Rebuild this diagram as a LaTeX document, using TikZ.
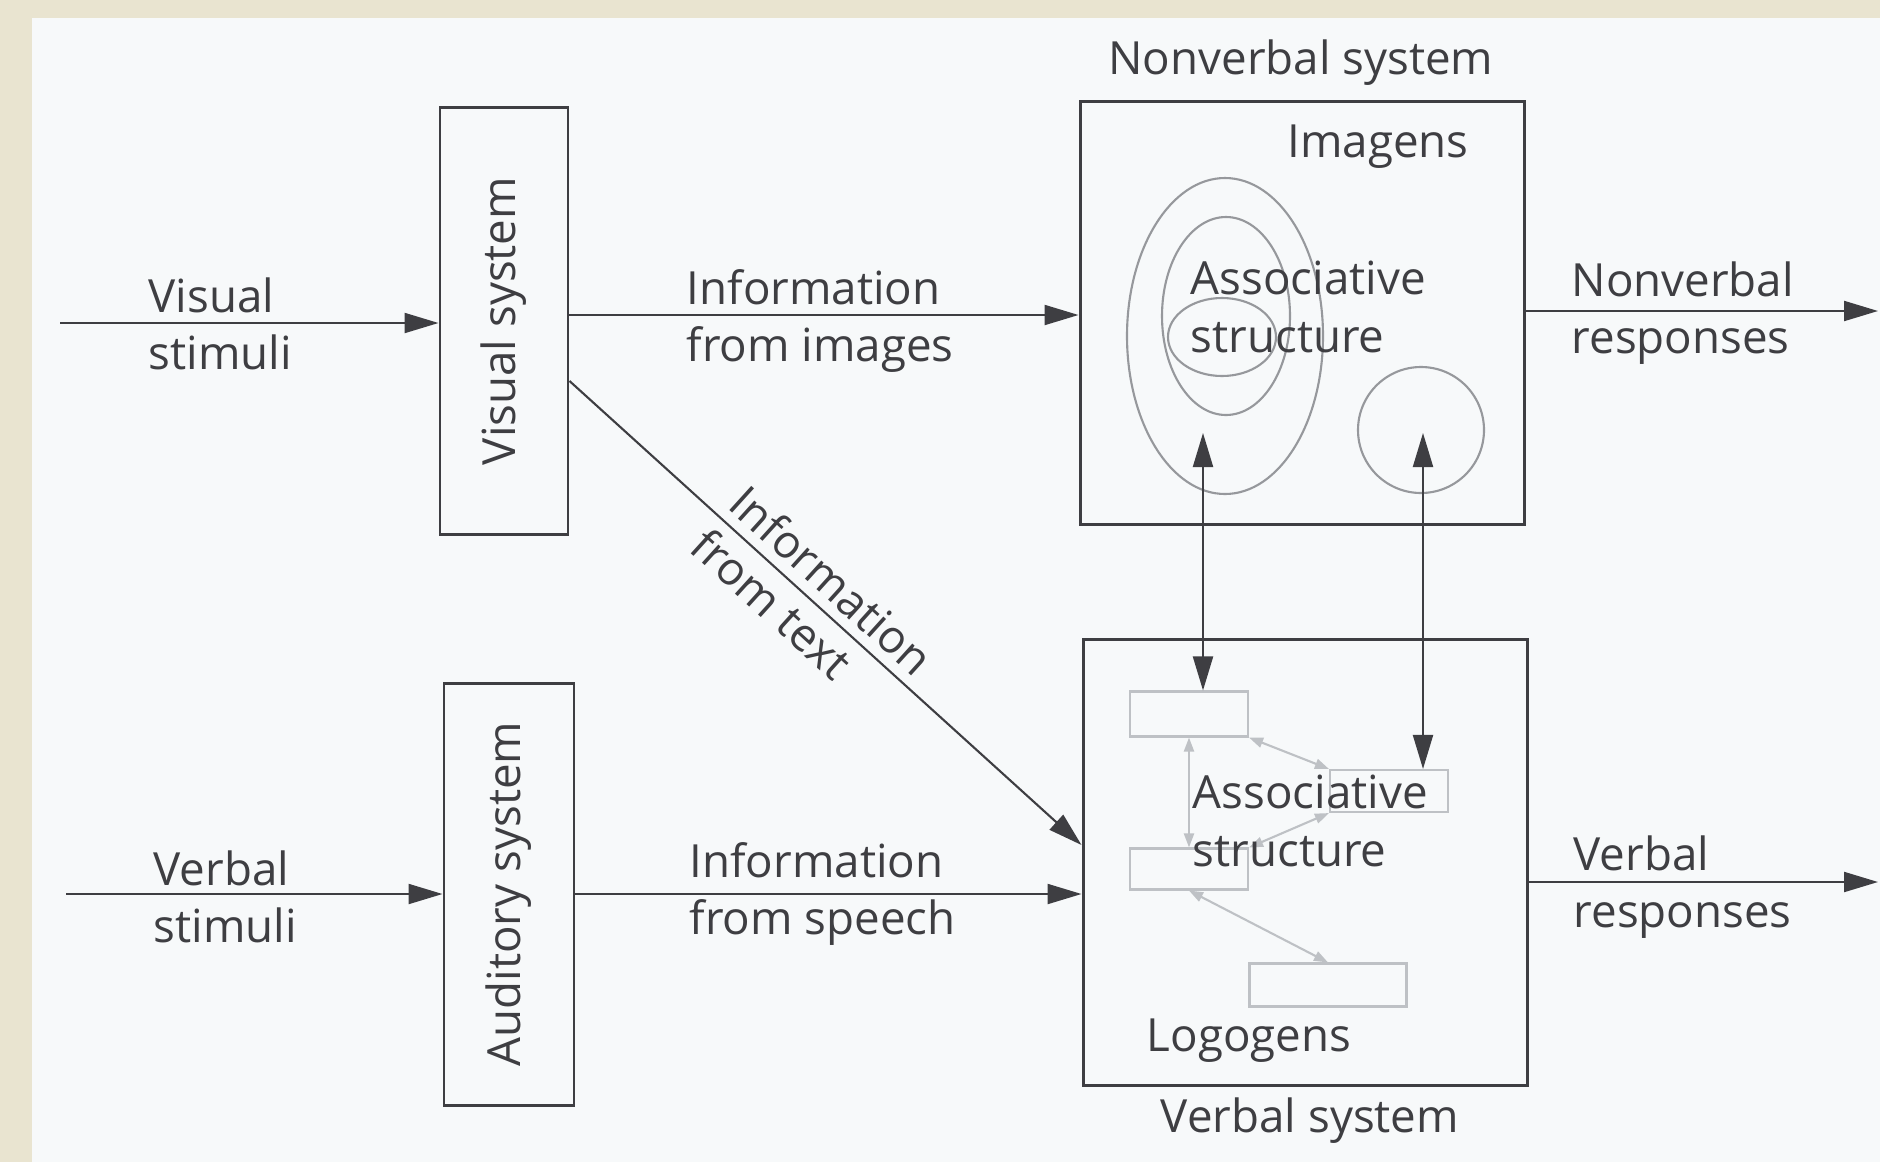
\documentclass[tikz,border=0pt]{standalone}
\usepackage{fontspec}
\setmainfont{Open Sans}
\usetikzlibrary{arrows.meta}

\definecolor{pagebg}{RGB}{233,228,208}
\definecolor{paper}{RGB}{247,249,250}
\definecolor{ink}{RGB}{62,62,66}
\definecolor{ringgray}{RGB}{150,152,156}
\definecolor{faint}{RGB}{190,193,197}

\tikzset{
  sysbox/.style={draw=ink, line width=0.85pt, inner sep=0pt},
  txt/.style={text=ink, align=left, inner sep=0pt, font=\fontsize{13}{16.4}\selectfont},
  flow/.style={draw=ink, line width=0.6pt, -{Triangle[length=3.4mm,width=2mm]}},
  duplex/.style={draw=ink, line width=0.6pt, {Triangle[length=3.4mm,width=2mm]}-{Triangle[length=3.4mm,width=2mm]}},
  ring/.style={draw=ringgray, line width=0.6pt},
  logo/.style={draw=faint, line width=0.6pt, inner sep=0pt},
  linkarrow/.style={draw=faint, line width=0.6pt, {Triangle[length=1.4mm,width=1mm]}-{Triangle[length=1.4mm,width=1mm]}}
}

\begin{document}
\begin{tikzpicture}[x=0.1mm, y=-0.1mm]

\useasboundingbox (0,0) rectangle (1880,1162);
\fill[pagebg] (0,0) rectangle (1880,1162);
\fill[paper] (32,18) rectangle (1880,1162);

\node[sysbox, txt, rotate=90, minimum width=42.7mm, minimum height=12.8mm] (vis) at (504,321) {Visual system};
\node[sysbox, txt, rotate=90, minimum width=42.2mm, minimum height=13mm] (aud) at (509,894) {Auditory system};
\node[sysbox, minimum width=44.4mm, minimum height=42.3mm] (nv) at (1302,313) {};
\node[sysbox, minimum width=44.4mm, minimum height=44.6mm] (vb) at (1305,862) {};

\node[txt] (nvtitle) at (1301,63) {Nonverbal system};
\node[txt] (vbtitle) at (1310,1121) {Verbal system};
\node[txt] (imagens) at (1378,147) {Imagens};
\node[txt] (logogens) at (1249,1041) {Logogens};

\draw[ring] (1225,336) ellipse [x radius=9.8mm, y radius=15.8mm];
\draw[ring] (1226,316) ellipse [x radius=6.4mm, y radius=9.9mm];
\draw[ring] (1222,337) ellipse [x radius=5.4mm, y radius=3.9mm];
\draw[ring] (1421,430) circle [radius=6.3mm];
\node[txt, anchor=west] (nvassoc) at (1190,307) {Associative\\structure};

\node[logo, minimum width=11.8mm, minimum height=4.5mm] (lg1) at (1189,714) {};
\node[logo, minimum width=11.8mm, minimum height=4.2mm] (lg2) at (1389,791) {};
\node[logo, minimum width=11.8mm, minimum height=4.1mm] (lg3) at (1189,869) {};
\node[logo, minimum width=15.7mm, minimum height=4.3mm] (lg4) at (1328,985) {};
\draw[linkarrow] (lg2.north west) -- (lg1.south east);
\draw[linkarrow] (lg3.north) -- (lg1.south);
\draw[linkarrow] (lg2.south west) -- (lg3.north east);
\draw[linkarrow] (lg3.south) -- (lg4.north);
\node[txt, anchor=west] (vbassoc) at (1192,821) {Associative\\structure};

\coordinate (imgL) at (1203,433);
\coordinate (imgR) at (1423,433);
\draw[duplex] (imgL) -- (imgL |- lg1.north);
\draw[duplex] (imgR) -- (imgR |- lg2.north);

\coordinate (visin) at (60,323);
\coordinate (verbin) at (66,894);
\coordinate (nvout) at (1878,311);
\coordinate (vbout) at (1878,882);

\draw[flow] (visin) -- (visin -| vis.north);
\draw[flow] (verbin) -- (aud.north);
\draw[flow] (vis.south |- 0,315) -- (nv.west |- 0,315);
\draw[flow] (aud.south) -- (aud.south -| vb.west);
\draw[flow] (vis.south |- 0,381) -- (vb.west |- 0,845)
  node[txt, sloped, pos=0.475] (fromtext) {Information\\from text};
\draw[flow] (nv.east |- nvout) -- (nvout);
\draw[flow] (vbout -| vb.east) -- (vbout);

\node[txt, anchor=west] (visstim) at (148,324) {Visual\\stimuli};
\node[txt, anchor=west] (verbstim) at (153,897) {Verbal\\stimuli};
\node[txt, anchor=west] (infoimg) at (686,321) {Information\\from images};
\node[txt, anchor=west] (infospeech) at (689,894) {Information\\from speech};
\node[txt, anchor=west] (nvresp) at (1571,313) {Nonverbal\\responses};
\node[txt, anchor=west] (vbresp) at (1573,887) {Verbal\\responses};

\end{tikzpicture}
\end{document}
